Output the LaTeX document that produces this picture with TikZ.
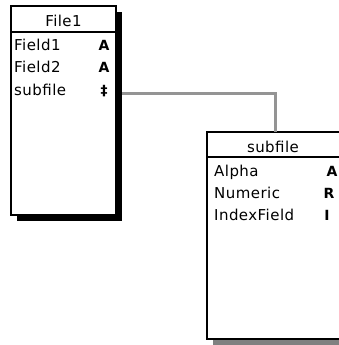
\documentclass[tikz,border=0pt]{standalone}
\usepackage{fontspec}
\newfontfamily\geneva{DejaVu Sans}[LetterSpace=3]
\newfontfamily\genevab{DejaVu Sans Bold}
\tikzset{
  tablebox/.style={draw=black, line width=1.2pt, fill=white, inner sep=0pt, outer sep=0pt, anchor=north west},
  shadowbox/.style={fill=black, inner sep=0pt, outer sep=0pt, anchor=north west},
  dithershadow/.style={fill=black!50, inner sep=0pt, outer sep=0pt, anchor=north west},
  field/.style={anchor=base west, inner sep=0pt, font=\geneva\fontsize{15}{16}\selectfont},
  tabletitle/.style={anchor=base, inner sep=0pt, font=\geneva\fontsize{15}{16}\selectfont},
  sym/.style={anchor=base, inner sep=0pt, font=\genevab\fontsize{14}{15}\selectfont},
  sepline/.style={line width=1.2pt},
  link/.style={draw=black!42, line width=3pt}
}
\begin{document}
\begin{tikzpicture}[x=1pt,y=-1pt]
\useasboundingbox (0,0) rectangle (338,345);
% File1 table
\node[shadowbox, minimum width=105pt, minimum height=209pt] (f1sh) at (17,12) {};
\node[tablebox, minimum width=105pt, minimum height=209pt] (f1) at (11,6) {};
\coordinate (f1sepy) at (0,32);
\draw[sepline] (f1.west |- f1sepy) -- (f1.east |- f1sepy);
\node[tabletitle] (f1t) at (63.5,27) {File1};
\node[field] (f1a) at (14,51) {Field1};
\node[field] (f1b) at (14,73) {Field2};
\node[field] (f1c) at (14,95) {subfile};
\node[sym] (f1as) at (104,51) {A};
\node[sym] (f1bs) at (104,73) {A};
\node[sym] (f1cs) at (104,95) {‡};
% subfile table
\node[dithershadow, minimum width=135pt, minimum height=207pt] (sbsh) at (213,139) {};
\node[tablebox, minimum width=135pt, minimum height=207pt] (sb) at (207,132) {};
\coordinate (sbsepy) at (0,157);
\draw[sepline] (sb.west |- sbsepy) -- (sb.east |- sbsepy);
\node[tabletitle] (sbt) at (273,152) {subfile};
\node[field] (sba) at (214,176) {Alpha};
\node[field] (sbb) at (214,198) {Numeric};
\node[field] (sbc) at (214,220) {IndexField};
\node[sym] (sbas) at (332,176) {A};
\node[sym] (sbbs) at (329,198) {R};
\node[sym] (sbcs) at (327,220) {I};
% link
\coordinate (linky) at (0,93);
\coordinate (linkx) at (275,0);
\draw[link] (f1sh.east |- linky) -| (linkx |- sb.north);
\end{tikzpicture}
\end{document}
